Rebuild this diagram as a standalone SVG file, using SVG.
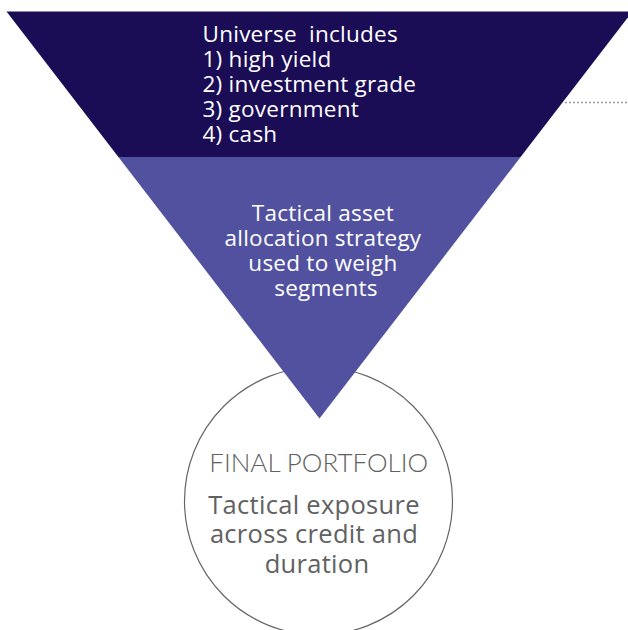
<svg xmlns="http://www.w3.org/2000/svg" width="628" height="630" viewBox="0 0 628 630">
<style>
.t{font-family:"Open Sans","Noto Sans","Liberation Sans",sans-serif;}
.w{fill:#ffffff;font-size:22.5px;letter-spacing:0.25px;}
.g{fill:#606162;}
</style>
<rect width="628" height="630" fill="#ffffff"/>
<g id="final-portfolio">
<circle cx="318.5" cy="501" r="134" fill="#ffffff" stroke="#666666" stroke-width="1.2"/>
<text class="g" style="font-family:Lato,'Open Sans',sans-serif" x="318.7" y="471.7" text-anchor="middle" font-size="26" font-weight="300">FINAL PORTFOLIO</text>
<text class="t g" text-anchor="middle" font-size="25.5" letter-spacing="0.3">
<tspan x="317.5" y="514">Tactical exposure</tspan>
<tspan x="317.5" y="543.3">across credit and</tspan>
<tspan x="317" y="572.7">duration</tspan>
</text>
</g>
<g id="universe">
<polygon points="6.5,11.5 632.5,11.5 520.6,157 118.4,157" fill="#1a0c55"/>
<text class="t w" xml:space="preserve" style="white-space:pre">
<tspan x="202.5" y="41.7">Universe  includes</tspan>
<tspan x="202.5" y="66.7">1) high yield</tspan>
<tspan x="202.5" y="91.7">2) investment grade</tspan>
<tspan x="202.5" y="116.7">3) government</tspan>
<tspan x="202.5" y="141.7">4) cash</tspan>
</text>
</g>
<g id="tactical">
<polygon points="118.4,157 520.6,157 319.5,418.5" fill="#5251a0"/>
<text class="t w" text-anchor="middle">
<tspan x="326" y="220.7">Tactical asset</tspan>
<tspan x="326" y="245.7">allocation strategy</tspan>
<tspan x="326" y="270.7">used to weigh</tspan>
<tspan x="326" y="295.7">segments</tspan>
</text>
</g>
<g id="connectors">
<line x1="565" y1="102.5" x2="628" y2="102.5" stroke="#9a9a9a" stroke-width="1.5" stroke-dasharray="2,2"/>
</g>
</svg>
